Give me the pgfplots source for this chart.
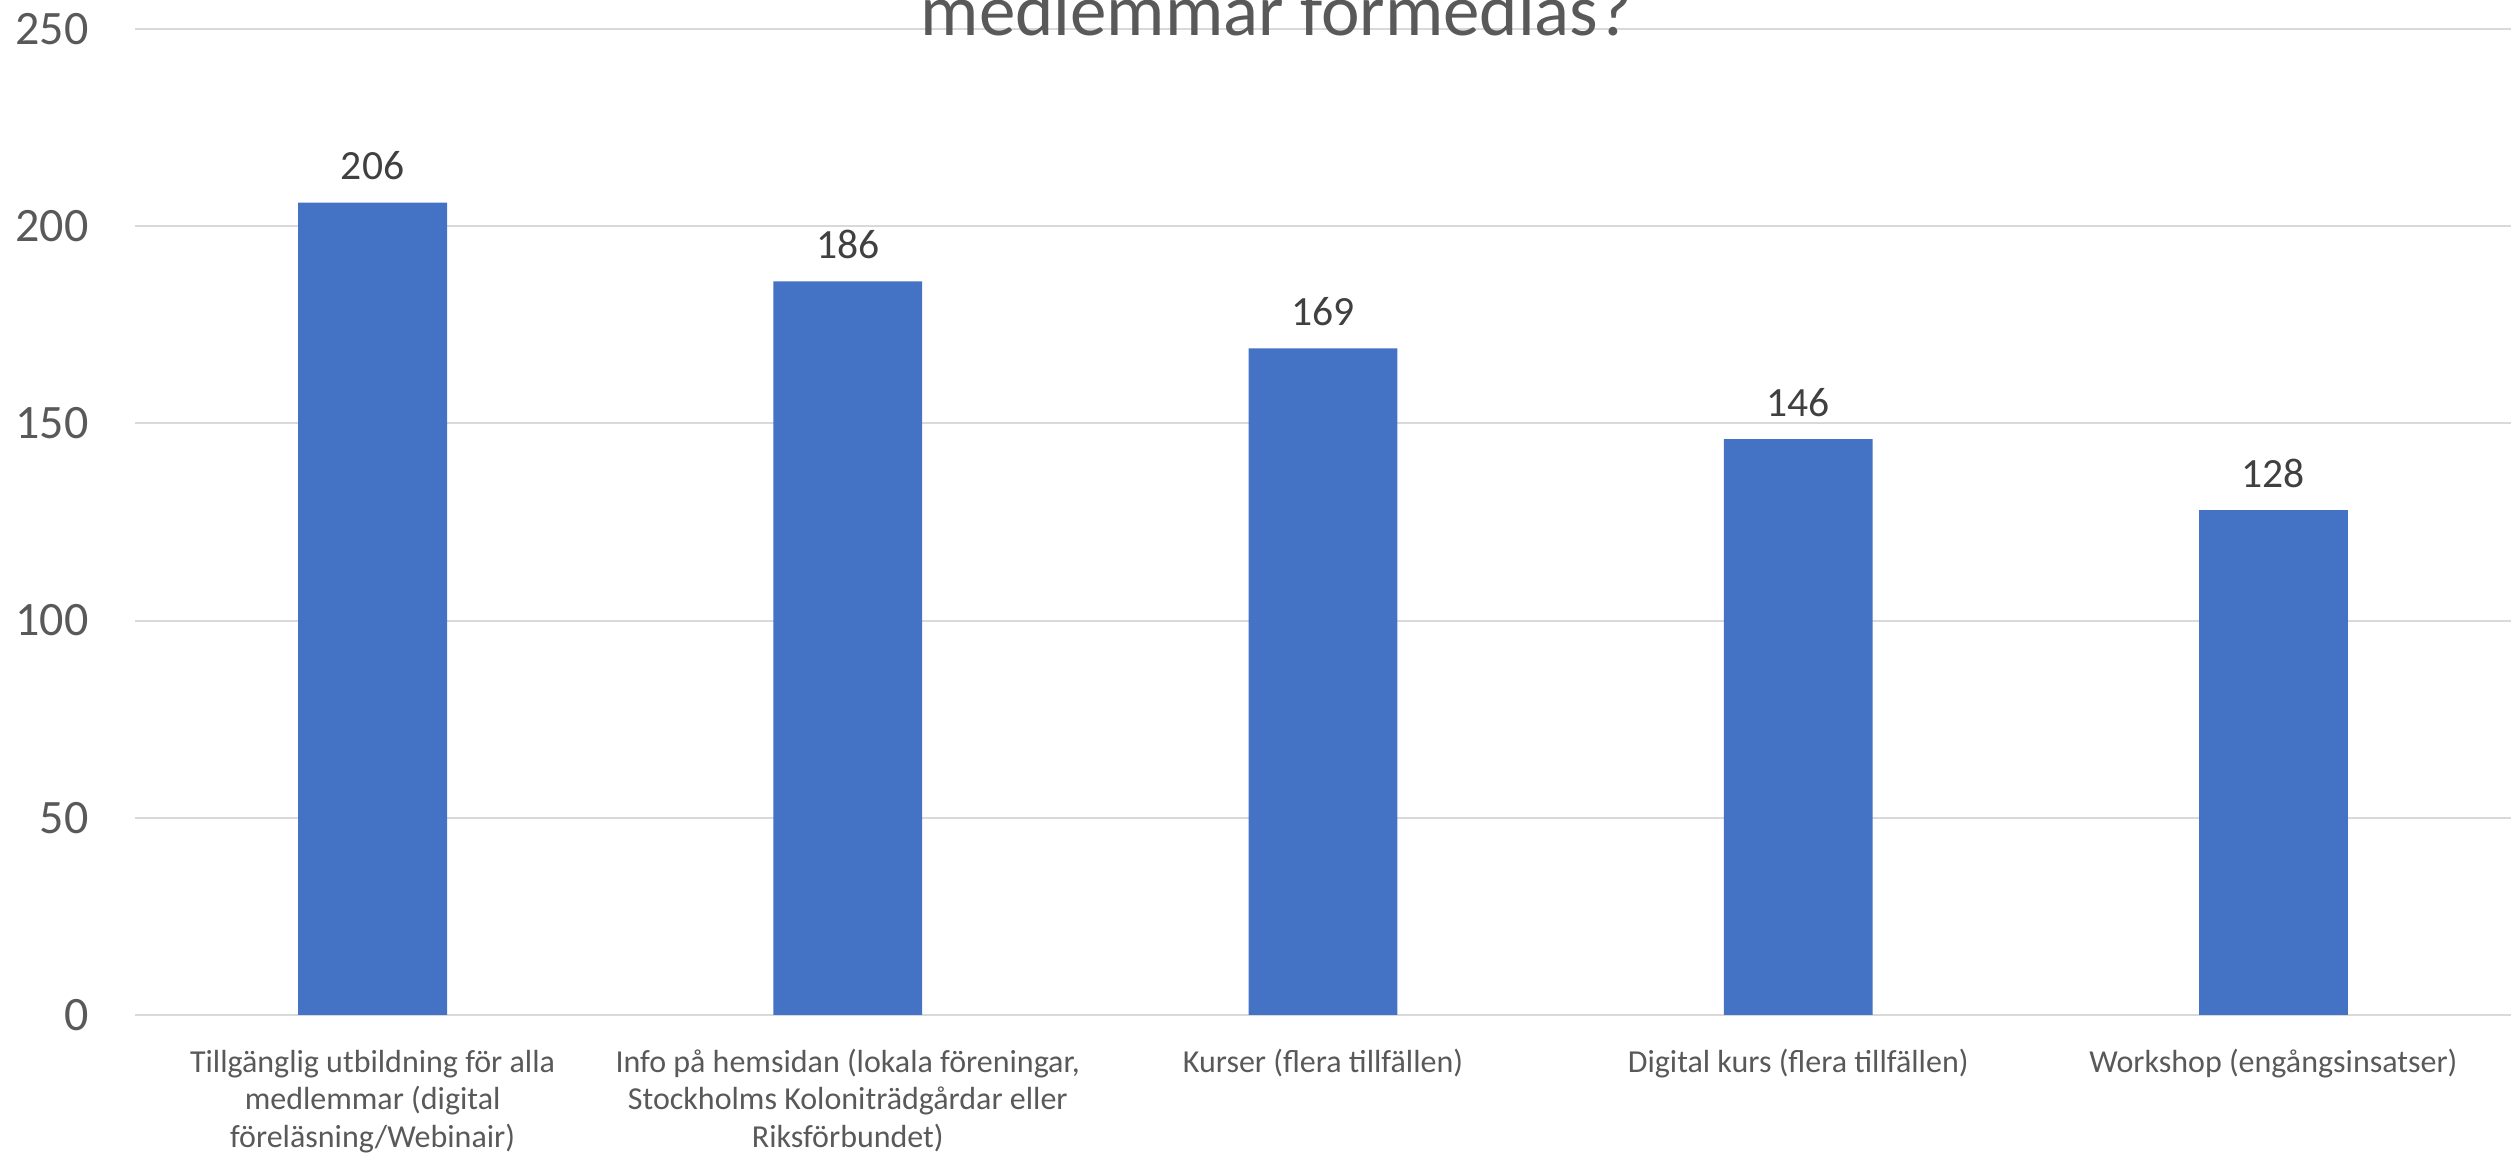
\documentclass[border=0pt]{standalone}
\usepackage{pgfplots}
\pgfplotsset{compat=1.18}
\usepackage{fontspec}
\setmainfont{Carlito}
\definecolor{barblue}{HTML}{4472C4}
\definecolor{gridgray}{HTML}{D9D9D9}
\definecolor{labgray}{HTML}{595959}
\definecolor{datgray}{HTML}{404040}
\begin{document}
\begin{tikzpicture}
\path[use as bounding box] (0,0) rectangle (627.75pt,288.25pt);
\clip (0,0) rectangle (627.75pt,288.25pt);
\begin{axis}[
  at={(33.75pt,34.5pt)}, anchor=south west,
  scale only axis,
  width=594pt, height=246.5pt,
  xmin=-0.5, xmax=4.5,
  ymin=0, ymax=250,
  ytick={0,50,...,250},
  xtick={0,1,2,3,4},
  xticklabels={
    {\strut Tillgänglig utbildning för alla\\medlemmar (digital\\föreläsning/Webinair)},
    {\strut Info på hemsidan (lokala föreningar,\\Stockholms Koloniträdgårdar eller\\Riksförbundet)},
    {\strut Kurser (flera tillfällen)},
    {\strut Digital kurs (flera tillfällen)},
    {\strut Workshop (engångsinsatser)}},
  axis line style={draw=none},
  tick style={draw=none},
  major tick length=0pt,
  ymajorgrids,
  major grid style={color=gridgray, line width=0.5pt},
  extra y ticks={0},
  extra y tick labels={},
  extra y tick style={grid style={color=gridgray, line width=0.75pt}},
  /pgf/number format/assume math mode=true,
  yticklabel style={font=\fontsize{12}{14}\selectfont, text=labgray, anchor=east, inner sep=0pt, xshift=-11.4pt},
  xticklabel style={font=\fontsize{8}{9.375}\selectfont, text=labgray, anchor=north, inner sep=0pt, yshift=-7.6pt, align=center},
  nodes near coords,
  every node near coord/.append style={font=\fontsize{10.4}{12}\selectfont, text=datgray, anchor=base, inner sep=0pt, yshift=5.7pt},
]
\addplot[ybar, bar width=37.2pt, fill=barblue, draw=none] coordinates {
  (0,206) (1,186) (2,169) (3,146) (4,128)
};
\end{axis}
\node[anchor=base, inner sep=0pt, text=labgray, font=\fontsize{18.25}{22}\selectfont] at (319.1pt,279.25pt) {medlemmar förmedlas?};
\end{tikzpicture}
\end{document}
